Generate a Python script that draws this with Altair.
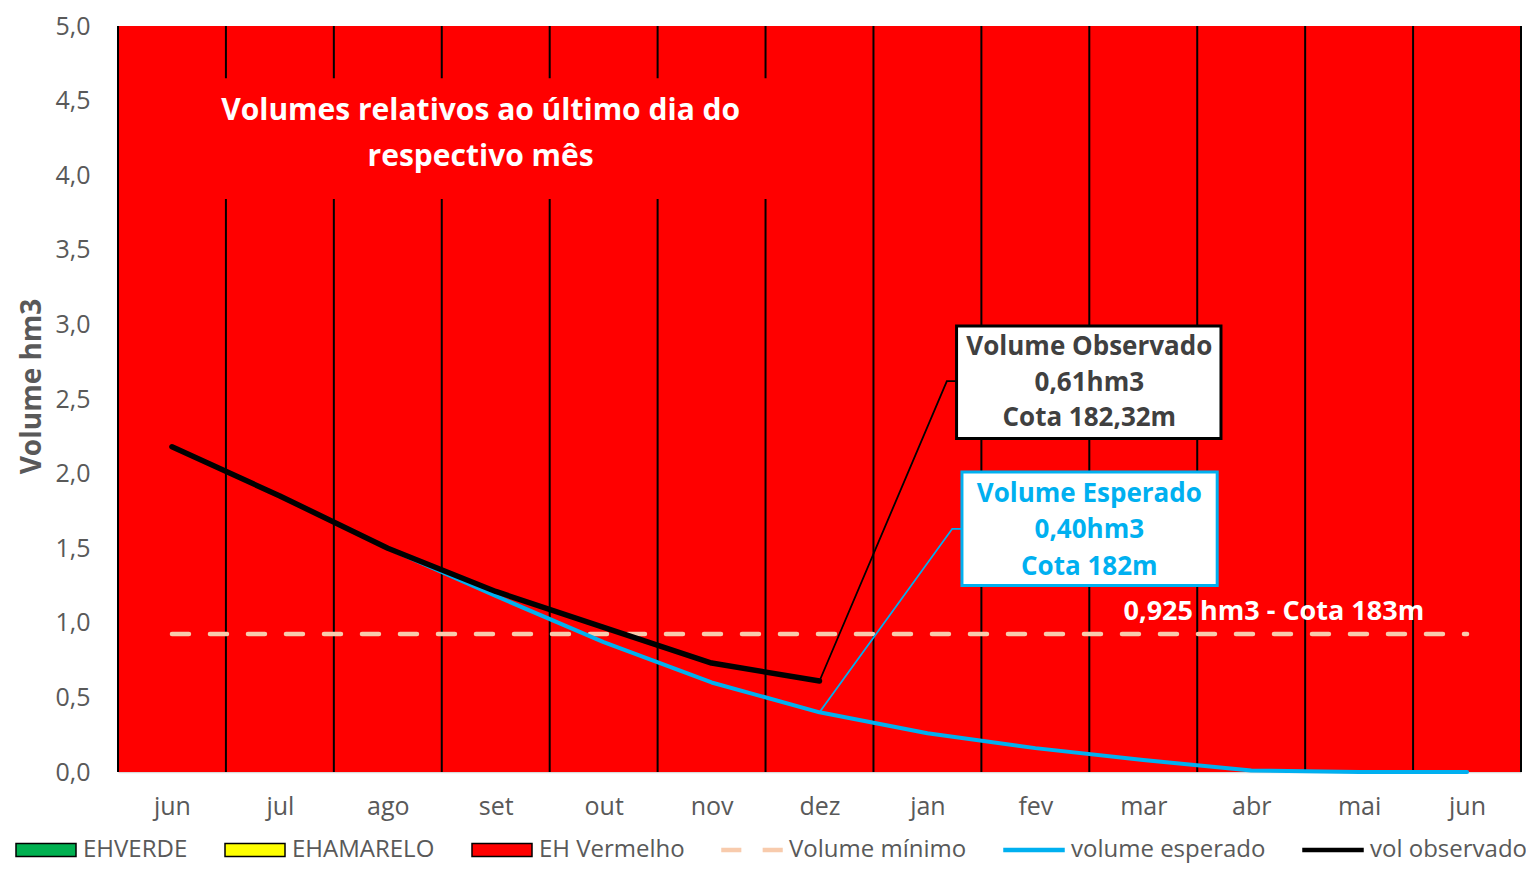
import json
import altair as alt
import pandas as pd

# ---------------- data ----------------
months = ["jun", "jul", "ago", "set", "out", "nov", "dez",
          "jan", "fev", "mar", "abr", "mai", "jun"]
idx = list(range(len(months)))

eh_verde = [0.0] * 13
eh_amarelo = [0.0] * 13
eh_vermelho = [5.0] * 13
vol_minimo = [0.925] * 13
vol_esperado = [2.18, 1.85, 1.50, 1.18, 0.87, 0.60, 0.40, 0.26, 0.16, 0.08, 0.01, 0.0, 0.0]
vol_observado = [2.18, 1.85, 1.50, 1.21, 0.97, 0.73, 0.61]

y_ticks = [0, 0.5, 1, 1.5, 2, 2.5, 3, 3.5, 4, 4.5, 5]

legend_names = ["EHVERDE", "EHAMARELO", "EH Vermelho", "Volume mínimo",
                "volume esperado", "vol observado"]
legend_fill = ["#00B050", "#FFFF00", "#FF0000", "#F8CBAD", "#00B0F0", "#000000"]
legend_stroke = ["#000000", "#000000", "#000000", "#F8CBAD", "#00B0F0", "#000000"]
BOX = "M-1,-0.22H1V0.22H-1Z"
LINE = "M-1,-0.05H1V0.05H-1Z"
DASH = "M-1,-0.05H-0.38V0.05H-1Z M0.38,-0.05H1V0.05H0.38Z"
legend_shapes = [BOX, BOX, BOX, DASH, LINE, LINE]

# annotation texts (data coordinates)
ann_text = ["Volumes relativos ao último dia do", "respectivo mês",
            "Volume Observado", "0,61hm3", "Cota 182,32m",
            "Volume Esperado", "0,40hm3", "Cota 182m",
            "0,925 hm3 - Cota 183m"]
ann_x = [2.86, 2.86, 8.5, 8.5, 8.5, 8.5, 8.5, 8.5, 10.21]
ann_y = [4.43, 4.125, 2.85, 2.61, 2.37, 1.86, 1.62, 1.375, 1.07]
ann_color = ["#FFFFFF", "#FFFFFF", "#404040", "#404040", "#404040",
             "#00B0F0", "#00B0F0", "#00B0F0", "#FFFFFF"]
ann_size = [30, 30, 26, 26, 26, 26, 26, 26, 27]

# boxes: title cover, observed box, expected box
box_x0 = [0.30, 7.27, 7.32]
box_x1 = [5.70, 9.72, 9.685]
box_y0 = [3.84, 2.236, 1.25]
box_y1 = [4.65, 2.99, 2.01]
box_fill = ["#FF0000", "#FFFFFF", "#FFFFFF"]
box_stroke = ["#FF0000", "#000000", "#00B0F0"]
box_sw = [0, 3, 3]

# leader lines
lead_group = ["obs", "obs", "obs", "esp", "esp", "esp"]
lead_x = [6.0, 7.18, 7.27, 6.0, 7.23, 7.32]
lead_y = [0.61, 2.62, 2.62, 0.40, 1.63, 1.63]
lead_color = ["#000000"] * 3 + ["#00B0F0"] * 3
lead_order = [0, 1, 2, 0, 1, 2]

# ---------------- frames ----------------
FONT = "Open Sans"
GRAY = "#595959"

df_bar = pd.DataFrame({"x0": [i - 0.5 for i in idx], "x1": [i + 0.5 for i in idx],
                       "y1": [a + b + c for a, b, c in zip(eh_verde, eh_amarelo, eh_vermelho)],
                       "y0": [a + b for a, b in zip(eh_verde, eh_amarelo)]})
df_rule = pd.DataFrame({"x": [i - 0.5 for i in idx] + [idx[-1] + 0.5],
                        "y0": 0.0, "y1": 5.0})
df_min = pd.DataFrame({"x": idx, "y": vol_minimo})
df_esp = pd.DataFrame({"x": idx, "y": vol_esperado})
df_obs = pd.DataFrame({"x": idx[:len(vol_observado)], "y": vol_observado})
df_ann = pd.DataFrame({"t": ann_text, "x": ann_x, "y": ann_y, "c": ann_color, "s": ann_size})
df_box = pd.DataFrame({"x0": box_x0, "x1": box_x1, "y0": box_y0, "y1": box_y1,
                       "f": box_fill, "st": box_stroke, "sw": box_sw})
df_lead = pd.DataFrame({"g": lead_group, "x": lead_x, "y": lead_y, "c": lead_color, "o": lead_order})
df_leg = pd.DataFrame({"name": legend_names, "x": 6.0, "y": 2.5})

xscale = alt.Scale(domain=[-0.5, 12.5], nice=False, zero=False)
yscale = alt.Scale(domain=[0, 5], nice=False, zero=True)
label_expr = json.dumps(months) + "[datum.value]"
xaxis = alt.Axis(values=idx, labelExpr=label_expr, title=None, grid=False, ticks=False,
                 domain=True, domainColor="#D9D9D9", domainWidth=1.5,
                 labelFont=FONT, labelFontSize=25, labelColor=GRAY, labelPadding=22)
yaxis = alt.Axis(values=y_ticks, labelExpr="replace(format(datum.value, '.1f'), '.', ',')",
                 title="Volume hm3", grid=False, ticks=False, domain=False,
                 labelFont=FONT, labelFontSize=25, labelColor=GRAY, labelPadding=28,
                 titleFont=FONT, titleFontSize=28, titleFontWeight="bold", titleColor=GRAY,
                 titlePadding=8, titleY=360)


def X(f):
    return alt.X(f, type="quantitative", scale=xscale, axis=xaxis)


def Y(f):
    return alt.Y(f, type="quantitative", scale=yscale, axis=yaxis)


legend_layer = alt.Chart(df_leg).mark_point(filled=True, size=3600, strokeWidth=1.5,
                                            opacity=1).encode(
    x=X("x"), y=Y("y"),
    fill=alt.Fill("name:N", scale=alt.Scale(domain=legend_names, range=legend_fill),
                  legend=alt.Legend(title=None)),
    stroke=alt.Stroke("name:N", scale=alt.Scale(domain=legend_names, range=legend_stroke),
                      legend=alt.Legend(title=None)),
    shape=alt.Shape("name:N", scale=alt.Scale(domain=legend_names, range=legend_shapes),
                    legend=alt.Legend(title=None)),
)

bars = alt.Chart(df_bar).mark_rect(color="#FF0000").encode(
    x=X("x0"), x2="x1", y=Y("y0"), y2="y1")

rules = alt.Chart(df_rule).mark_rule(color="#000000", strokeWidth=2).encode(
    x=X("x"), y=Y("y0"), y2="y1")

boxes = alt.Chart(df_box).mark_rect().encode(
    x=X("x0"), x2="x1", y=Y("y0"), y2="y1",
    fill=alt.Fill("f:N", scale=None), stroke=alt.Stroke("st:N", scale=None),
    strokeWidth=alt.StrokeWidth("sw:Q", scale=None))

min_line = alt.Chart(df_min).mark_line(color="#F8CBAD", strokeWidth=4.5, strokeDash=[17, 21],
                                       strokeCap="round").encode(x=X("x"), y=Y("y"))
esp_line = alt.Chart(df_esp).mark_line(color="#00B0F0", strokeWidth=4, strokeCap="round",
                                       strokeJoin="round").encode(x=X("x"), y=Y("y"))
obs_line = alt.Chart(df_obs).mark_line(color="#000000", strokeWidth=5.5, strokeCap="round",
                                       strokeJoin="round").encode(x=X("x"), y=Y("y"))

leaders = alt.Chart(df_lead).mark_line(strokeWidth=1.8).encode(
    x=X("x"), y=Y("y"), detail="g:N", order="o:Q",
    stroke=alt.Stroke("c:N", scale=None))

texts = alt.Chart(df_ann).mark_text(font=FONT, fontWeight="bold", align="center",
                                    baseline="middle").encode(
    x=X("x"), y=Y("y"), text="t:N",
    color=alt.Color("c:N", scale=None), size=alt.Size("s:Q", scale=None))

chart = alt.layer(
    legend_layer, bars, rules, min_line, esp_line, obs_line, leaders, boxes, texts
).properties(
    width=1403, height=746,
    padding={"left": 110, "top": 18, "right": 5, "bottom": 93},
    autosize=alt.AutoSizeParams(type="none"),
).configure_view(stroke=None).configure_legend(
    orient="none", legendX=-103, legendY=793, direction="horizontal", columns=6,
    labelFont=FONT, labelFontSize=24, labelColor=GRAY, labelOffset=6, columnPadding=34,
    symbolSize=3600, symbolStrokeWidth=1.5, symbolOpacity=1, padding=0, labelLimit=400,
)

chart.save("out.html", embed_options={"renderer": "svg", "actions": False})
